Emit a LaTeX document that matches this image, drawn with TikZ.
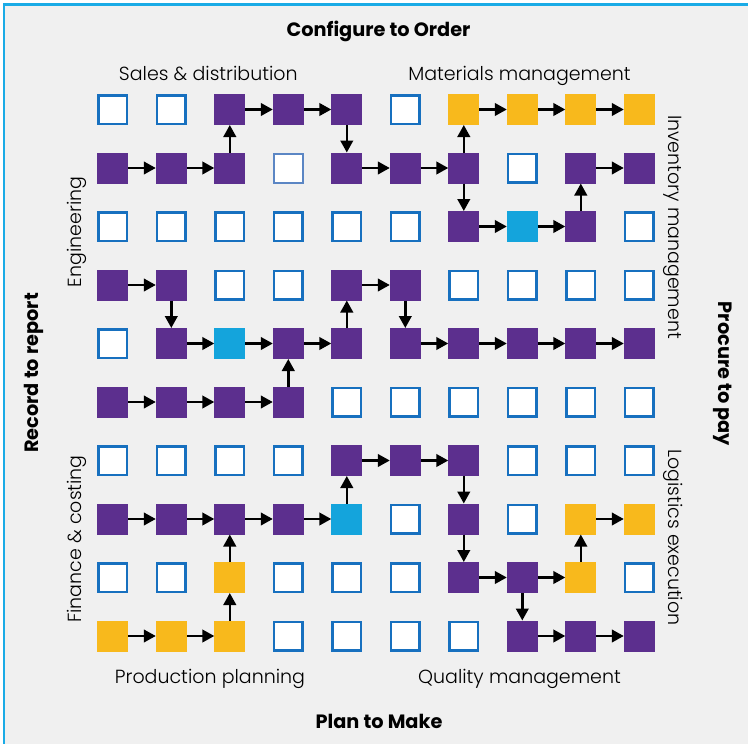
\documentclass[tikz,border=0pt]{standalone}
\usepackage{fontspec}
\setmainfont{Poppins}[UprightFont={* Light}, BoldFont={* Bold}]
\usetikzlibrary{arrows.meta}
\definecolor{bg}{HTML}{F0F0F0}
\definecolor{frame}{HTML}{1AABE6}
\definecolor{eblue}{HTML}{1770BF}
\definecolor{lblue}{HTML}{5B86C4}
\definecolor{purp}{HTML}{5C2F8E}
\definecolor{yel}{HTML}{F8B91C}
\definecolor{cya}{HTML}{14A4DC}
\tikzset{
  box/.style={rectangle, inner sep=0pt, outer sep=0pt},
  boxE/.style={box, draw=eblue, fill=white, line width=2.5pt, minimum size=28.5pt},
  boxL/.style={box, draw=lblue, fill=white, line width=2pt, minimum size=29pt},
  boxP/.style={box, fill=purp, minimum size=31pt},
  boxY/.style={box, fill=yel, minimum size=31pt},
  boxC/.style={box, fill=cya, minimum size=31pt},
  arr/.style={line width=2.5pt, -{Triangle[length=12pt,width=12.5pt]}},
  lab/.style={inner sep=0pt, font=\fontsize{19}{19}\selectfont},
  ttl/.style={inner sep=0pt, font=\fontsize{19.3}{19.3}\selectfont\bfseries},
}
\begin{document}
\begin{tikzpicture}[x=1pt,y=-1pt]
\useasboundingbox (0,0) rectangle (748,744);
\fill[white] (0,0) rectangle (748,744);
\fill[bg] (4,4) rectangle (748,744);
\draw[frame, line width=2.2pt] (4.3,744) -- (4.3,4.5) -- (748,4.5);
\foreach \row [count=\r] in {
  {E,E,P,P,P,E,Y,Y,Y,Y},
  {P,P,P,L,P,P,P,E,P,P},
  {E,E,E,E,E,E,P,C,P,E},
  {P,P,E,E,P,P,E,E,E,E},
  {E,P,C,P,P,P,P,P,P,P},
  {P,P,P,P,E,E,E,E,E,E},
  {E,E,E,E,P,P,P,E,E,E},
  {P,P,P,P,C,E,P,E,Y,Y},
  {E,E,Y,E,E,E,P,P,Y,E},
  {Y,Y,Y,E,E,E,E,P,P,P}} {
  \foreach \t [count=\c] in \row {
    \node[box\t] (n\r-\c) at ({112.8+58.5*(\c-1)},{109.5+58.5*(\r-1)}) {};
  }
}
\foreach \a/\b in {
  1-3/1-4, 1-4/1-5, 1-7/1-8, 1-8/1-9, 1-9/1-10,
  2-3/1-3, 1-5/2-5, 2-7/1-7,
  2-1/2-2, 2-2/2-3, 2-5/2-6, 2-6/2-7, 2-9/2-10,
  2-7/3-7, 3-9/2-9,
  3-7/3-8, 3-8/3-9,
  4-1/4-2, 4-5/4-6,
  4-2/5-2, 5-5/4-5, 4-6/5-6,
  5-2/5-3, 5-3/5-4, 5-4/5-5, 5-6/5-7, 5-7/5-8, 5-8/5-9, 5-9/5-10,
  6-4/5-4,
  6-1/6-2, 6-2/6-3, 6-3/6-4,
  7-5/7-6, 7-6/7-7,
  8-5/7-5, 7-7/8-7,
  8-1/8-2, 8-2/8-3, 8-3/8-4, 8-4/8-5, 8-9/8-10,
  9-3/8-3, 8-7/9-7, 9-9/8-9,
  9-7/9-8, 9-8/9-9,
  10-3/9-3, 9-8/10-8,
  10-1/10-2, 10-2/10-3, 10-8/10-9, 10-9/10-10} {
  \draw[arr] (n\a) -- (n\b);
}
\node[ttl, anchor=base] (cto) at (378.5,36.7) {Configure to Order};
\node[lab, anchor=base] (sd) at (208.3,80) {Sales \& distribution};
\node[lab, anchor=base] (mm) at (519.5,80) {Materials management};
\node[lab, anchor=base] (pp) at (210,683) {Production planning};
\node[lab, anchor=base] (qm) at (519.5,683) {Quality management};
\node[ttl, anchor=base] (ptm) at (379,728) {Plan to Make};
\node[lab, anchor=base, rotate=90] (eng) at (81,232) {Engineering};
\node[lab, anchor=base, rotate=90] (fc) at (81,539) {Finance \& costing};
\node[ttl, anchor=base, rotate=90] (rtr) at (38,373) {Record to report};
\node[lab, anchor=base, rotate=-90] (im) at (668.3,227) {Inventory management};
\node[lab, anchor=base, rotate=-90] (le) at (668.3,537.5) {Logistics execution};
\node[ttl, anchor=base, rotate=-90] (ptp) at (718,374) {Procure to pay};
\end{tikzpicture}
\end{document}
